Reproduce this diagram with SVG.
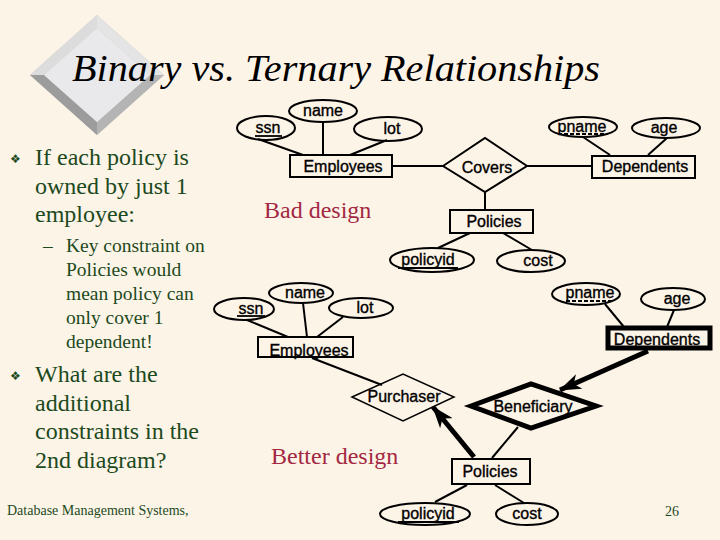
<svg xmlns="http://www.w3.org/2000/svg" width="720" height="540" viewBox="0 0 720 540">
<defs>
<style>
.bg{fill:#FDF4E8}
.serif{font-family:"Liberation Serif","Times New Roman",serif}
.lbl{font-family:"Liberation Sans",Arial,sans-serif;font-size:16px;fill:#000;text-anchor:middle;stroke:#000;stroke-width:0.35}
.shape{fill:none;stroke:#000;stroke-width:2}
.thin{fill:none;stroke:#000;stroke-width:1.5}
.thick{fill:none;stroke:#000;stroke-width:5}
.ul{stroke:#000;stroke-width:1.8}
.dul{stroke:#000;stroke-width:1.8;stroke-dasharray:4 2}
</style>
<marker id="arr" markerUnits="userSpaceOnUse" markerWidth="22" markerHeight="16" viewBox="0 0 22 16" refX="21" refY="8" orient="auto">
<path d="M0,0 L22,8 L0,16 L6,8 z" fill="#000"/>
</marker>
</defs>
<rect class="bg" x="0" y="0" width="720" height="540"/>

<g id="deco">
<polygon points="97,15 164,75 97,135 30,75" fill="#C8C8C8"/>
<polygon points="97,15 30,75 44,75 97,28" fill="#DCDCDC"/>
<polygon points="97,15 164,75 150,75 97,28" fill="#E4E4E4"/>
<polygon points="30,75 97,135 97,122 44,75" fill="#9C9C9C"/>
<polygon points="164,75 97,135 97,122 150,75" fill="#B4B4B4"/>
<polygon points="97,28 150,75 97,122 44,75" fill="#E9E9EC"/>
</g>

<text class="serif" x="72" y="81" font-style="italic" font-size="38" fill="#000" textLength="528" lengthAdjust="spacingAndGlyphs">Binary vs. Ternary Relationships</text>

<g id="bullets" class="serif" fill="#1C4A1C">
<text x="10" y="163" font-family="DejaVu Sans, sans-serif" font-size="12">❖</text>
<g font-size="24">
<text x="35" y="165">If each policy is</text>
<text x="35" y="194">owned by just 1</text>
<text x="35" y="222">employee:</text>
</g>
<g font-size="19.5">
<text x="43" y="252">–</text>
<text x="66" y="252">Key constraint on</text>
<text x="66" y="276">Policies would</text>
<text x="66" y="300">mean policy can</text>
<text x="66" y="324">only cover 1</text>
<text x="66" y="348">dependent!</text>
</g>
<text x="10" y="380" font-family="DejaVu Sans, sans-serif" font-size="12">❖</text>
<g font-size="24">
<text x="35" y="382">What are the</text>
<text x="35" y="411">additional</text>
<text x="35" y="439">constraints in the</text>
<text x="35" y="468">2nd diagram?</text>
</g>
</g>

<g class="serif">
<text x="264" y="218" font-size="24" fill="#A32842">Bad design</text>
<text x="271" y="464" font-size="24" fill="#A32842">Better design</text>
<text x="7" y="515" font-size="14" fill="#1C4A1C">Database Management Systems,</text>
<text x="665" y="516" font-size="14" fill="#1C4A1C">26</text>
</g>

<g id="connectors">
<line class="shape" x1="258" y1="139" x2="303" y2="155"/>
<line class="shape" x1="323" y1="122" x2="323" y2="155"/>
<line class="shape" x1="387" y1="140" x2="350" y2="155"/>
<line class="shape" x1="392" y1="166" x2="443" y2="166"/>
<line class="shape" x1="527" y1="166" x2="592" y2="166"/>
<line class="shape" x1="583" y1="137" x2="610" y2="155"/>
<line class="shape" x1="667" y1="138" x2="648" y2="155"/>
<line class="shape" x1="485" y1="192" x2="485" y2="210"/>
<line class="shape" x1="470" y1="233" x2="438" y2="248"/>
<line class="shape" x1="503" y1="233" x2="532" y2="250"/>
<line class="shape" x1="247" y1="320" x2="288" y2="337"/>
<line class="shape" x1="303" y1="303" x2="307" y2="337"/>
<line class="shape" x1="343" y1="317" x2="317" y2="337"/>
<line class="shape" x1="605" y1="304" x2="624" y2="327"/>
<line class="shape" x1="674" y1="310" x2="667" y2="327"/>
<line class="shape" x1="312" y1="358" x2="382" y2="385"/>
<line class="thick" x1="648" y1="351" x2="560" y2="390" marker-end="url(#arr)"/>
<line class="thick" x1="474" y1="457" x2="433" y2="407" marker-end="url(#arr)"/>
<line class="shape" x1="518" y1="427" x2="492" y2="458"/>
<line class="shape" x1="467" y1="485" x2="435" y2="502"/>
<line class="shape" x1="495" y1="485" x2="524" y2="503"/>
</g>

<g id="ssn1"><ellipse class="shape" cx="266" cy="128" rx="29" ry="12"/><text class="lbl" x="268" y="133">ssn</text><line class="ul" x1="255" y1="136" x2="282" y2="136"/></g>
<g id="name1"><ellipse class="shape" cx="323" cy="111" rx="34" ry="11"/><text class="lbl" x="323" y="116">name</text></g>
<g id="lot1"><ellipse class="shape" cx="388" cy="129" rx="34" ry="12"/><text class="lbl" x="392" y="134">lot</text></g>
<g id="employees1"><rect class="shape" x="290" y="155" width="102" height="22"/><text class="lbl" x="343" y="172">Employees</text></g>
<g id="covers"><polygon class="shape" points="443,166 485,138 527,166 485,192"/><text class="lbl" x="487" y="173">Covers</text></g>
<g id="dependents1"><rect class="shape" x="592" y="156" width="103" height="22"/><text class="lbl" x="645" y="172">Dependents</text></g>
<g id="pname1"><ellipse class="shape" cx="583" cy="127" rx="34" ry="10"/><text class="lbl" x="582" y="132">pname</text><line class="dul" x1="558" y1="134" x2="606" y2="134"/></g>
<g id="age1"><ellipse class="shape" cx="666" cy="128" rx="34" ry="10"/><text class="lbl" x="664" y="133">age</text></g>
<g id="policies1"><rect class="shape" x="450" y="210" width="83" height="23"/><text class="lbl" x="494" y="227">Policies</text></g>
<g id="policyid1"><ellipse class="shape" cx="432" cy="260" rx="42" ry="12"/><text class="lbl" x="428" y="265">policyid</text><line class="ul" x1="398" y1="268" x2="458" y2="268"/></g>
<g id="cost1"><ellipse class="shape" cx="531" cy="261" rx="34" ry="11"/><text class="lbl" x="538" y="266">cost</text></g>

<g id="ssn2"><ellipse class="shape" cx="244" cy="309" rx="30" ry="11"/><text class="lbl" x="251" y="314">ssn</text><line class="ul" x1="237" y1="316" x2="265" y2="316"/></g>
<g id="name2"><ellipse class="shape" cx="301" cy="293" rx="32" ry="10"/><text class="lbl" x="305" y="298">name</text></g>
<g id="lot2"><ellipse class="shape" cx="361" cy="308" rx="32" ry="10"/><text class="lbl" x="365" y="313">lot</text></g>
<g id="employees2"><rect class="shape" x="258" y="337" width="95" height="20"/><text class="lbl" x="309" y="356">Employees</text></g>
<g id="pname2"><ellipse class="shape" cx="586" cy="294" rx="34" ry="11"/><text class="lbl" x="590" y="298">pname</text><line class="dul" x1="566" y1="301" x2="614" y2="301"/></g>
<g id="age2"><ellipse class="shape" cx="673" cy="299" rx="32" ry="11"/><text class="lbl" x="677" y="304">age</text></g>
<g id="dependents2"><rect x="608" y="328" width="102" height="20" fill="none" stroke="#000" stroke-width="5"/><text class="lbl" x="657" y="345">Dependents</text></g>
<g id="purchaser"><polygon class="thin" points="352,397 403,374 454,397 403,421"/><text class="lbl" x="404" y="402">Purchaser</text></g>
<g id="beneficiary"><polygon class="thick" points="471,406 531,384 596,406 531,428"/><text class="lbl" x="533" y="412">Beneficiary</text></g>
<g id="policies2"><rect class="shape" x="452" y="459" width="78" height="25"/><text class="lbl" x="490" y="477">Policies</text></g>
<g id="policyid2"><ellipse class="shape" cx="425" cy="514" rx="45" ry="11"/><text class="lbl" x="428" y="519">policyid</text><line class="ul" x1="398" y1="522" x2="459" y2="522"/></g>
<g id="cost2"><ellipse class="shape" cx="527" cy="514" rx="31" ry="11"/><text class="lbl" x="527" y="519">cost</text></g>
</svg>
